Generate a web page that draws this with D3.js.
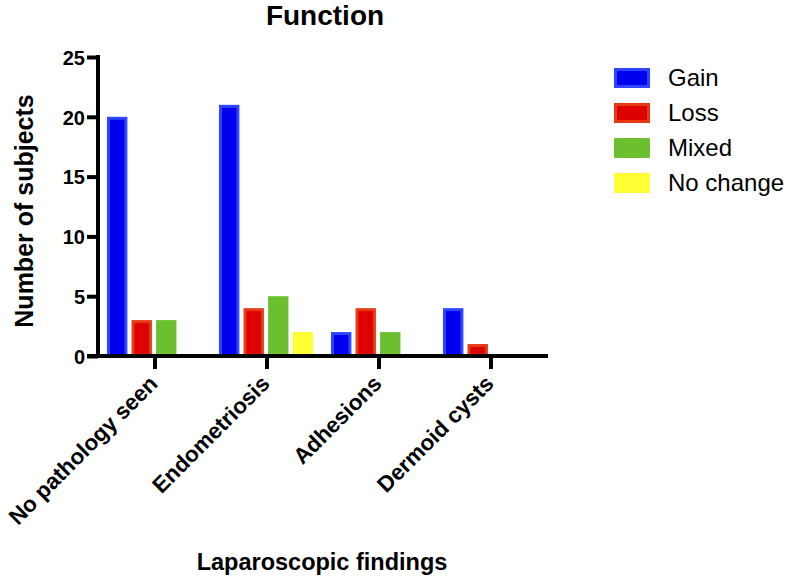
<!DOCTYPE html>
<html>
<head>
<meta charset="utf-8">
<script src="https://cdn.jsdelivr.net/npm/d3@7"></script>
<style>
  html, body { margin: 0; padding: 0; background: #fff; }
  svg { display: block; font-family: "Liberation Sans", Arial, Helvetica, sans-serif; }
</style>
</head>
<body>
<svg id="chart" width="789" height="580"></svg>
<script>
const categories = ["No pathology seen", "Endometriosis", "Adhesions", "Dermoid cysts"];
const seriesNames = ["Gain", "Loss", "Mixed", "No change"];
const gain = [20, 21, 2, 4];
const loss = [3, 4, 4, 1];
const mixed = [3, 5, 2, 0];
const noChange = [0, 2, 0, 0];
const yTicks = [0, 5, 10, 15, 20, 25];
const titleText = "Function";
const xTitle = "Laparoscopic findings";
const yTitle = "Number of subjects";

const seriesValues = [gain, loss, mixed, noChange];
const fills = ["#0000ee", "#dd0000", "#6cbf2e", "#ffff33"];
const strokes = ["#2e45ff", "#e63a12", "#6cbf2e", "#ffff33"];

const svg = d3.select("#chart");

const y = d3.scaleLinear().domain([0, 25]).range([356, 57]);
const x = d3.scaleBand().domain(categories).range([99, 547]).padding(0);
const xi = d3.scaleBand().domain(seriesNames).range([8, 102]).paddingInner(0.17);

// bars
const data = [];
categories.forEach((c, ci) => {
  seriesNames.forEach((s, si) => {
    data.push({ cat: c, series: s, si: si, value: seriesValues[si][ci] });
  });
});

const sw = 3;
svg.append("g").selectAll("rect")
  .data(data.filter(d => d.value > 0))
  .join("rect")
  .attr("x", d => x(d.cat) + xi(d.series) + sw / 2)
  .attr("y", d => y(d.value) + sw / 2)
  .attr("width", xi.bandwidth() - sw)
  .attr("height", d => y(0) - y(d.value) - sw / 2)
  .attr("fill", d => fills[d.si])
  .attr("stroke", d => strokes[d.si])
  .attr("stroke-width", sw);

// y axis
const yAxis = svg.append("g")
  .attr("transform", "translate(98,0)")
  .call(d3.axisLeft(y).tickValues(yTicks).tickSize(11).tickPadding(2).tickFormat(d3.format("d")));
yAxis.select(".domain").attr("stroke", "#000").attr("stroke-width", 4)
  .attr("d", `M0,${y(25) - 2}V${y(0) + 2}`);
yAxis.selectAll(".tick line").attr("stroke", "#000").attr("stroke-width", 4);
yAxis.selectAll(".tick text")
  .attr("fill", "#000")
  .style("font-size", "20px").style("font-weight", "bold")
  .attr("dy", "0.36em");

// x axis
const xAxis = svg.append("g")
  .attr("transform", `translate(0,${y(0)})`)
  .call(d3.axisBottom(x).tickSize(13).tickPadding(0));
xAxis.select(".domain").attr("stroke", "#000").attr("stroke-width", 4)
  .attr("d", "M87,0H548");
xAxis.selectAll(".tick line").attr("stroke", "#000").attr("stroke-width", 4);
xAxis.selectAll(".tick text")
  .attr("fill", "#000")
  .style("font-size", "22.3px").style("font-weight", "bold")
  .attr("text-anchor", "end")
  .attr("y", 0).attr("dy", 0)
  .attr("transform", "translate(4,29) rotate(-45)");

// title
svg.append("text")
  .attr("x", 325).attr("y", 25)
  .attr("text-anchor", "middle")
  .style("font-size", "28px").style("font-weight", "bold")
  .text(titleText);

// axis titles
svg.append("text")
  .attr("x", 322).attr("y", 570)
  .attr("text-anchor", "middle")
  .style("font-size", "23.5px").style("font-weight", "bold")
  .text(xTitle);

svg.append("text")
  .attr("transform", "translate(33,211) rotate(-90)")
  .attr("text-anchor", "middle")
  .style("font-size", "25px").style("font-weight", "bold")
  .text(yTitle);

// legend
const legend = svg.append("g").selectAll("g")
  .data(seriesNames)
  .join("g")
  .attr("transform", (d, i) => `translate(614,${68 + i * 35})`);
legend.append("rect")
  .attr("x", sw / 2).attr("y", sw / 2)
  .attr("width", 36 - sw).attr("height", 20 - sw)
  .attr("fill", (d, i) => fills[i])
  .attr("stroke", (d, i) => strokes[i])
  .attr("stroke-width", sw);
legend.append("text")
  .attr("x", 54).attr("y", 18)
  .style("font-size", "24px")
  .text(d => d);
</script>
</body>
</html>
